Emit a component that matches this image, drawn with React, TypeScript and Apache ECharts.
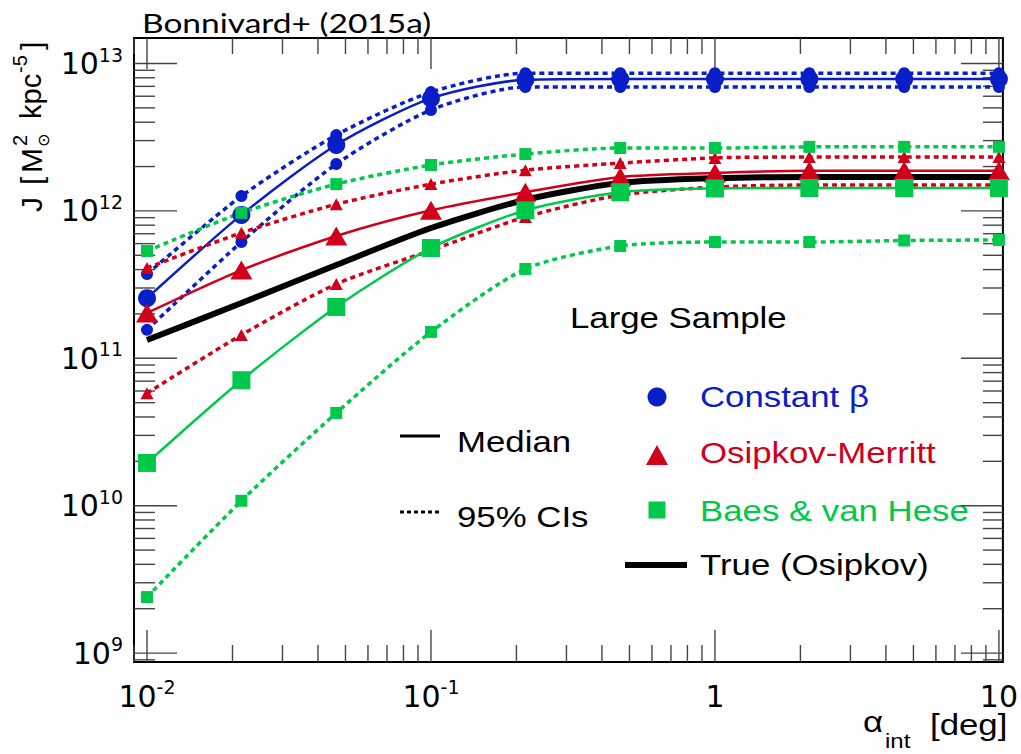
import React, { useEffect, useRef } from 'react';
import * as echarts from 'echarts';

// ---- data ----
const alpha = [0.01, 0.0215, 0.0464, 0.1, 0.215, 0.464, 1, 2.15, 4.64, 10];

const constBetaMedian = [2.56e11, 9.4e11, 2.8e12, 5.8e12, 7.75e12, 7.85e12, 7.85e12, 7.85e12, 7.85e12, 7.85e12];
const constBetaHi = [3.73e11, 1.26e12, 3.27e12, 6.4e12, 8.6e12, 8.6e12, 8.6e12, 8.6e12, 8.6e12, 8.6e12];
const constBetaLo = [1.56e11, 6.15e11, 2.08e12, 4.84e12, 6.93e12, 6.93e12, 6.93e12, 6.93e12, 6.93e12, 6.93e12];

const osipkovMedian = [2.03e11, 3.97e11, 6.76e11, 1.01e12, 1.34e12, 1.7e12, 1.81e12, 1.87e12, 1.87e12, 1.87e12];
const osipkovHi = [4.1e11, 7.1e11, 1.11e12, 1.52e12, 1.89e12, 2.11e12, 2.29e12, 2.32e12, 2.32e12, 2.32e12];
const osipkovLo = [5.8e10, 1.44e11, 3.19e11, 5.4e11, 9.1e11, 1.28e12, 1.45e12, 1.5e12, 1.5e12, 1.5e12];

const baesMedian = [1.95e10, 7.1e10, 2.23e11, 5.6e11, 1.01e12, 1.34e12, 1.42e12, 1.43e12, 1.43e12, 1.43e12];
const baesHi = [5.35e11, 9.7e11, 1.52e12, 2.05e12, 2.43e12, 2.67e12, 2.67e12, 2.72e12, 2.72e12, 2.72e12];
const baesLo = [2.4e9, 1.08e10, 4.26e10, 1.51e11, 4.04e11, 5.78e11, 6.15e11, 6.15e11, 6.3e11, 6.35e11];

const trueOsipkov = [1.33e11, 2.37e11, 4.3e11, 7.66e11, 1.19e12, 1.55e12, 1.67e12, 1.7e12, 1.7e12, 1.7e12];

const xMajorTicks = [0.01, 0.1, 1, 10];
const yMajorTicks = [1e9, 1e10, 1e11, 1e12, 1e13];

const X_MIN = 0.009;
const X_MAX = 10.33;
const Y_MIN = 8.7e8;
const Y_MAX = 1.49e13;

const BLUE = '#0a1ec8';
const RED = '#d0001a';
const GREEN = '#00c84a';
const TICK = '#444444';

function minorTicks(lo: number, hi: number): number[] {
  const out: number[] = [];
  for (let e = Math.floor(Math.log10(lo)); e <= Math.ceil(Math.log10(hi)); e++) {
    for (let m = 2; m <= 9; m++) {
      const v = m * Math.pow(10, e);
      if (v > lo && v < hi) out.push(v);
    }
  }
  return out;
}

function labelFormatter(v: number): string {
  const e = Math.log10(v);
  const r = Math.round(e);
  if (Math.abs(e - r) > 1e-6) return '';
  if (r === 0) return '{b|1}';
  if (r === 1) return '{b|10}';
  return '{b|10}{s|' + r + '}';
}

const richLabel = {
  b: { fontFamily: 'DejaVu Sans', fontSize: 30, lineHeight: 38, color: '#000' },
  s: { fontFamily: 'DejaVu Sans', fontSize: 19, lineHeight: 20, color: '#000', padding: [0, 0, 18, 0] },
};

export default function App() {
  const ref = useRef<HTMLDivElement>(null);

  useEffect(() => {
    if (!ref.current) return;
    const chart = echarts.init(ref.current, undefined, { renderer: 'svg' });

    // tick marks: [x, y, side, length]; side 0 bottom, 1 top, 2 left, 3 right
    const tickData: number[][] = [];
    xMajorTicks.forEach((v) => {
      tickData.push([v, Y_MIN, 0, 32]);
      tickData.push([v, Y_MAX, 1, 31]);
    });
    minorTicks(X_MIN, X_MAX).forEach((v) => {
      tickData.push([v, Y_MIN, 0, 17]);
      tickData.push([v, Y_MAX, 1, 16]);
    });
    yMajorTicks.forEach((v) => {
      tickData.push([X_MIN, v, 2, 43]);
      tickData.push([X_MAX, v, 3, 42]);
    });
    minorTicks(Y_MIN, Y_MAX).forEach((v) => {
      tickData.push([X_MIN, v, 2, 21]);
      tickData.push([X_MAX, v, 3, 20]);
    });

    const line = (
      name: string,
      values: number[],
      color: string,
      symbol: string,
      size: number | number[],
      dotted: boolean,
      width: number,
    ) => ({
      type: 'line',
      name,
      data: alpha.map((a, i) => [a, values[i]]),
      smooth: 0.25,
      symbol,
      symbolSize: size,
      showSymbol: symbol !== 'none',
      lineStyle: { color, width, type: dotted ? [5, 4] : 'solid', cap: 'butt' },
      itemStyle: { color, borderWidth: 0 },
      emphasis: { disabled: true },
      z: 3,
    });

    const txt = (text: string, x: number, y: number, size: number, fill: string, sx = 1.2) => ({
      type: 'text',
      x,
      y,
      scaleX: sx,
      style: { text, fontFamily: 'Liberation Sans', fontSize: size, fill, verticalAlign: 'middle', align: 'left' },
    });

    const option: any = {
      animation: false,
      grid: {
        left: 134,
        right: 14,
        top: 38,
        bottom: 92,
        show: true,
        borderColor: '#000',
        borderWidth: 2,
        backgroundColor: 'transparent',
      },
      xAxis: {
        type: 'log',
        logBase: 10,
        min: X_MIN,
        max: X_MAX,
        axisLine: { show: false },
        axisTick: { show: false },
        splitLine: { show: false },
        axisLabel: { formatter: labelFormatter, rich: richLabel, margin: 15 },
      },
      yAxis: {
        type: 'log',
        logBase: 10,
        min: Y_MIN,
        max: Y_MAX,
        axisLine: { show: false },
        axisTick: { show: false },
        splitLine: { show: false },
        axisLabel: { formatter: labelFormatter, rich: richLabel, margin: 11 },
      },
      series: [
        {
          type: 'custom',
          name: 'ticks',
          data: tickData,
          encode: { x: 0, y: 1 },
          z: 1,
          silent: true,
          renderItem: (params: any, api: any) => {
            const p = api.coord([api.value(0), api.value(1)]);
            const side = api.value(2);
            const len = api.value(3);
            let x2 = p[0];
            let y2 = p[1];
            if (side === 0) y2 -= len;
            else if (side === 1) y2 += len;
            else if (side === 2) x2 += len;
            else x2 -= len;
            return {
              type: 'line',
              shape: { x1: p[0], y1: p[1], x2, y2 },
              style: { stroke: TICK, lineWidth: 1.4 },
            };
          },
        },
        line('True (Osipkov)', trueOsipkov, '#000', 'none', 0, false, 6),
        line('Constant β 95% hi', constBetaHi, BLUE, 'circle', 12, true, 3.5),
        line('Constant β 95% lo', constBetaLo, BLUE, 'circle', 12, true, 3.5),
        line('Constant β median', constBetaMedian, BLUE, 'circle', 18, false, 2.5),
        line('Osipkov-Merritt 95% hi', osipkovHi, RED, 'triangle', [13, 12], true, 3.5),
        line('Osipkov-Merritt 95% lo', osipkovLo, RED, 'triangle', [13, 12], true, 3.5),
        line('Osipkov-Merritt median', osipkovMedian, RED, 'triangle', [22, 19], false, 2.5),
        line('Baes & van Hese 95% hi', baesHi, GREEN, 'rect', 12, true, 3.5),
        line('Baes & van Hese 95% lo', baesLo, GREEN, 'rect', 12, true, 3.5),
        line('Baes & van Hese median', baesMedian, GREEN, 'rect', 18, false, 2.5),
      ],
      graphic: [
        {
          type: 'text',
          x: 142,
          y: 22,
          scaleX: 1.24,
          style: { text: 'Bonnivard+ (2015a)', fontFamily: 'Lato', fontSize: 27, fill: '#000', verticalAlign: 'middle', align: 'left' },
        },
        // y axis title
        {
          type: 'group',
          x: 31,
          y: 212,
          rotation: Math.PI / 2,
          children: [
            { type: 'text', x: 0, y: 0, style: { text: 'J', fontFamily: 'Liberation Sans', fontSize: 30, fill: '#000', verticalAlign: 'middle' } },
            { type: 'text', x: 27, y: 0, style: { text: '[', fontFamily: 'Liberation Sans', fontSize: 30, fill: '#000', verticalAlign: 'middle' } },
            { type: 'text', x: 39, y: 0, style: { text: 'M', fontFamily: 'Liberation Sans', fontSize: 30, fill: '#000', verticalAlign: 'middle' } },
            { type: 'text', x: 66, y: -11, style: { text: '2', fontFamily: 'Liberation Sans', fontSize: 20, fill: '#000', verticalAlign: 'middle' } },
            { type: 'text', x: 65, y: 12, style: { text: '⊙', fontFamily: 'DejaVu Sans', fontSize: 16, fill: '#000', verticalAlign: 'middle' } },
            { type: 'text', x: 93, y: 0, style: { text: 'kpc', fontFamily: 'Liberation Sans', fontSize: 29, fill: '#000', verticalAlign: 'middle' } },
            { type: 'text', x: 139, y: -11, style: { text: '-5', fontFamily: 'Liberation Sans', fontSize: 20, fill: '#000', verticalAlign: 'middle' } },
            { type: 'text', x: 162, y: 0, style: { text: ']', fontFamily: 'Liberation Sans', fontSize: 30, fill: '#000', verticalAlign: 'middle' } },
          ],
        },
        // x axis title
        txt('α', 863, 722, 29, '#000'),
        txt('int', 885, 741, 20, '#000'),
        txt('[deg]', 930, 725, 29, '#000'),
        // Large Sample
        txt('Large Sample', 570, 318, 29, '#000'),
        // left legend
        { type: 'line', shape: { x1: 400, y1: 436, x2: 440, y2: 436 }, style: { stroke: '#000', lineWidth: 3 } },
        txt('Median', 457, 442, 29, '#000'),
        { type: 'line', shape: { x1: 400, y1: 512, x2: 440, y2: 512 }, style: { stroke: '#000', lineWidth: 3, lineDash: [4, 3] } },
        txt('95% CIs', 457, 517, 29, '#000'),
        // right legend
        { type: 'circle', shape: { cx: 657, cy: 397, r: 9.5 }, style: { fill: BLUE } },
        txt('Constant β', 700, 397, 29, BLUE),
        { type: 'polygon', shape: { points: [[646, 465], [668, 465], [657, 445]] }, style: { fill: RED } },
        txt('Osipkov-Merritt', 700, 453, 29, RED),
        { type: 'rect', shape: { x: 648.5, y: 501.5, width: 17, height: 17 }, style: { fill: GREEN } },
        txt('Baes & van Hese', 700, 511, 29, GREEN),
        { type: 'line', shape: { x1: 625, y1: 565, x2: 687, y2: 565 }, style: { stroke: '#000', lineWidth: 6 } },
        txt('True (Osipkov)', 700, 565, 29, '#000'),
      ],
    };

    chart.setOption(option);
    return () => chart.dispose();
  }, []);

  return (
    <div
      ref={ref}
      style={{ position: 'absolute', left: 0, top: 0, width: 1021, height: 754, background: '#fff' }}
    />
  );
}
